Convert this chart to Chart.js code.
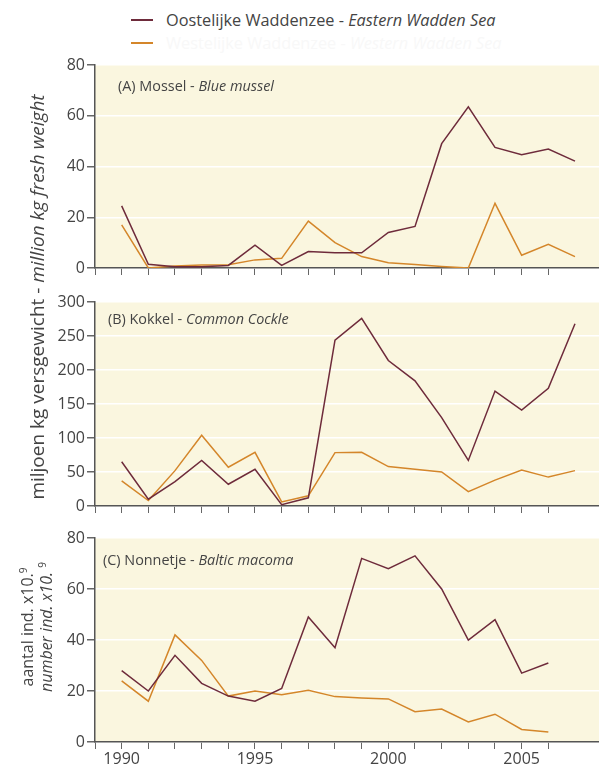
<!DOCTYPE html>
<html><head><meta charset="utf-8">
<script src="https://cdn.jsdelivr.net/npm/chart.js@4"></script>
<style>
body{margin:0;width:599px;height:770px;position:relative;background:#fff;font-family:"Open Sans",sans-serif;color:#444;overflow:hidden}
.box{position:absolute;left:0;width:599px}
.lg{position:absolute;font-size:16.3px;white-space:nowrap;line-height:20px}
.sw{position:absolute;width:22px;height:2px}
.pt{position:absolute;font-size:14.4px;white-space:nowrap;color:#444}
.rot{position:absolute;white-space:nowrap;transform:translate(-50%,-50%) rotate(-90deg);font-size:16px;color:#444}
sup{font-size:10px}
</style></head><body>
<div class="sw" style="left:131px;top:19px;background:#6e2b3b"></div>
<div class="lg" style="left:166px;top:10px">Oostelijke Waddenzee - <i>Eastern Wadden Sea</i></div>
<div class="sw" style="left:131px;top:42px;background:#d4862a"></div>
<div class="lg" style="left:166px;top:33px;color:#f8f8f8">Westelijke Waddenzee - <i>Western Wadden Sea</i></div>

<div class="box" style="top:50px;height:230px"><canvas id="cA" width="599" height="230"></canvas></div>
<div class="box" style="top:287px;height:231px"><canvas id="cB" width="599" height="231"></canvas></div>
<div class="box" style="top:523px;height:247px"><canvas id="cC" width="599" height="247"></canvas></div>

<div class="pt" style="left:118px;top:76px">(A) Mossel - <i>Blue mussel</i></div>
<div class="pt" style="left:108px;top:309px">(B) Kokkel - <i>Common Cockle</i></div>
<div class="pt" style="left:103px;top:550px">(C) Nonnetje - <i>Baltic macoma</i></div>

<div class="rot" style="left:37px;top:297px;font-size:19px">miljoen kg versgewicht - <i>million kg fresh weight</i></div>
<div class="rot" style="left:27px;top:627px">aantal ind. x10.<sup>9</sup></div>
<div class="rot" style="left:46px;top:627px"><i>number ind. x10.</i> <sup>9</sup></div>

<script>
const years = [1990,1991,1992,1993,1994,1995,1996,1997,1998,1999,2000,2001,2002,2003,2004,2005,2006,2007];
const musselEast = [24.5,1.5,0.5,0.5,1,9,1,6.5,6,6,14,16.4,49,63.5,47.5,44.6,46.9,42.1];
const musselWest = [17,0,0.8,1.2,1.3,3.2,3.8,18.5,10,4.5,2.1,1.4,0.6,0,25.5,5,9.3,4.5];
const cockleEast = [65,10,36,67,32,54,2,12,244,276,214,184,130,67,169,141,173,268];
const cockleWest = [37,8,52,104,57,79,6,15,78.5,79,58,54,50,21,38,53,42.5,52];
const macomaEast = [28,20,34,23,18,16,21,49,37,72,68,73,60,40,48,27,31,null];
const macomaWest = [24,16,42,32,18,20,18.5,20.3,17.8,17.3,16.9,11.9,12.9,7.9,10.9,4.9,3.9,null];
const xLabels = [1990,1995,2000,2005];
const colEast = '#6e2b3b', colWest = '#d4862a';

const bgPlugin = {id:'bg', beforeDraw(c){const a=c.chartArea,ctx=c.ctx;ctx.save();ctx.fillStyle='#faf6df';ctx.fillRect(a.left,a.top,a.right-a.left,a.bottom-a.top);ctx.restore();}};

function pts(vals){return years.map((y,i)=>({x:y,y:vals[i]}));}

function make(id, east, west, yMax, yStep, showLabels, xH){
  new Chart(document.getElementById(id), {
    type:'line',
    data:{datasets:[
      {data:pts(east),borderColor:colEast,borderWidth:1.5,pointRadius:0,spanGaps:false},
      {data:pts(west),borderColor:colWest,borderWidth:1.5,pointRadius:0,spanGaps:false}
    ]},
    plugins:[bgPlugin],
    options:{
      responsive:false, animation:false,
      layout:{padding:{top:15,right:0,left:0,bottom:0}},
      plugins:{legend:{display:false},tooltip:{enabled:false}},
      scales:{
        x:{type:'linear',min:1989,max:2007.9,
          afterBuildTicks:s=>{s.ticks=s.ticks.filter(t=>Number.isInteger(t.value));},
          afterFit:s=>{s.height=xH;},
          ticks:{stepSize:1,autoSkip:false,maxRotation:0,padding:1,color:'#444',font:{family:'Open Sans',size:16},
            callback:v=> (showLabels && xLabels.includes(v)) ? String(v) : ''},
          grid:{drawOnChartArea:false,tickLength:7,tickColor:'#666',tickWidth:1},
          border:{color:'#555',width:1.5}
        },
        y:{min:0,max:yMax,
          afterFit:s=>{s.width=95;},
          ticks:{stepSize:yStep,padding:2,color:'#444',font:{family:'Open Sans',size:16}},
          grid:{color:'#ffffff',lineWidth:1.5,tickColor:'#666',tickLength:8},
          border:{color:'#555',width:1.5}
        }
      }
    }
  });
}
make('cA', musselEast, musselWest, 80, 20, false, 12);
make('cB', cockleEast, cockleWest, 300, 50, false, 12);
make('cC', macomaEast, macomaWest, 80, 20, true, 28);
</script>
</body></html>
